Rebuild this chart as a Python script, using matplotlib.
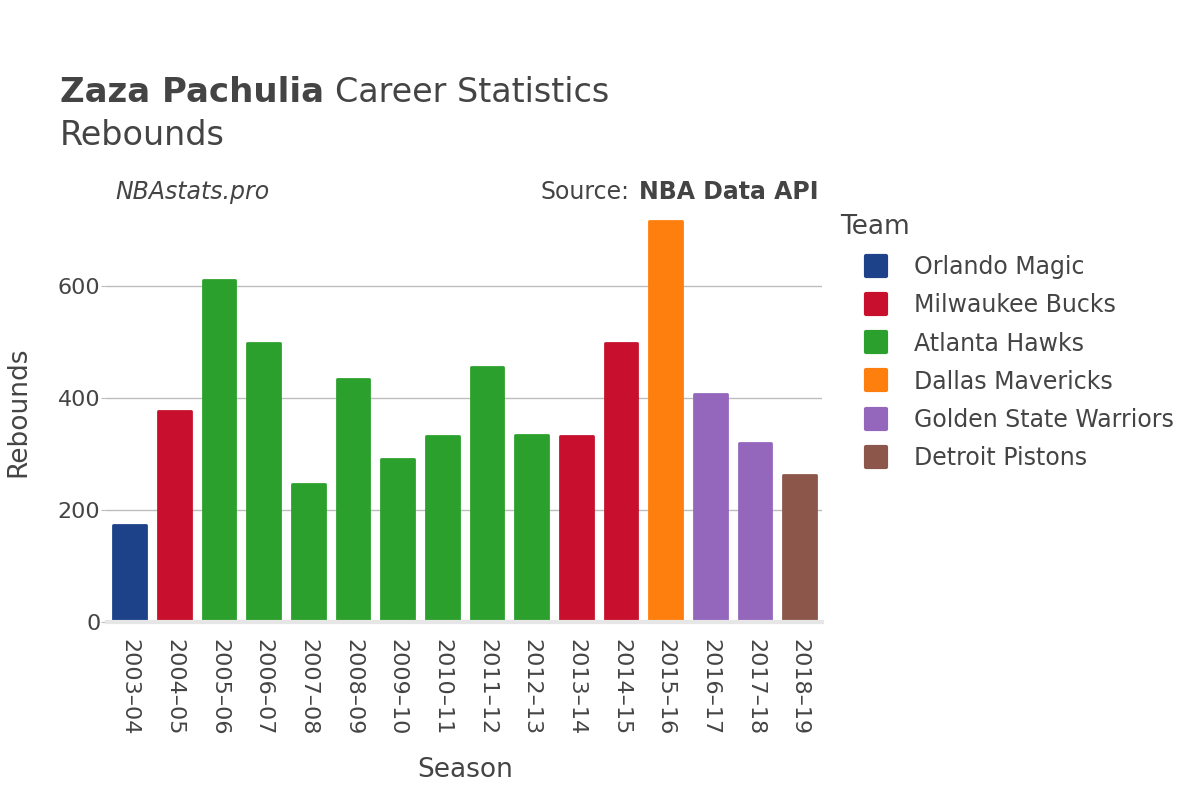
import matplotlib
matplotlib.use("Agg")
import matplotlib.pyplot as plt
from matplotlib.lines import Line2D
from matplotlib.markers import MarkerStyle

# Season labels and rebounds per season
seasons = ["2003–04", "2004–05", "2005–06", "2006–07", "2007–08", "2008–09",
           "2009–10", "2010–11", "2011–12", "2012–13", "2013–14", "2014–15",
           "2015–16", "2016–17", "2017–18", "2018–19"]
rebounds = [173, 377, 611, 498, 246, 434, 291, 332, 455, 334, 332, 498,
            716, 407, 320, 262]
teams = ["Orlando Magic", "Milwaukee Bucks", "Atlanta Hawks", "Atlanta Hawks",
         "Atlanta Hawks", "Atlanta Hawks", "Atlanta Hawks", "Atlanta Hawks",
         "Atlanta Hawks", "Atlanta Hawks", "Milwaukee Bucks", "Milwaukee Bucks",
         "Dallas Mavericks", "Golden State Warriors", "Golden State Warriors",
         "Detroit Pistons"]

team_order = ["Orlando Magic", "Milwaukee Bucks", "Atlanta Hawks",
              "Dallas Mavericks", "Golden State Warriors", "Detroit Pistons"]
team_colors = {
    "Orlando Magic": "#1d428a",
    "Milwaukee Bucks": "#c8102e",
    "Atlanta Hawks": "#2ca02c",
    "Dallas Mavericks": "#ff7f0e",
    "Golden State Warriors": "#9467bd",
    "Detroit Pistons": "#8c564b",
}

text_color = "#444444"
grid_color = "#bdbdbd"

plt.rcParams["font.family"] = ["DejaVu Sans"]

fig = plt.figure(figsize=(12, 8), dpi=100)
ax = fig.add_axes([0.0895, 0.2225, 0.5955, 0.5265])

colors = [team_colors[t] for t in teams]
x = list(range(len(seasons)))
bars = ax.bar(x, rebounds, width=0.73, color=colors, edgecolor=colors,
              linewidth=2, zorder=3)
for b in bars:
    b.set_joinstyle("round")

ax.set_xlim(-0.5, len(seasons) - 0.5)
ax.set_ylim(0, 752)
ax.set_yticks([0, 200, 400, 600])
ax.set_xticks(x)
ax.set_xticklabels(seasons, rotation=-90, fontsize=16, color=text_color)
ax.tick_params(axis="x", length=0, pad=12)
ax.tick_params(axis="y", labelsize=16, labelcolor=text_color, length=4,
               color=grid_color, pad=1)
ax.grid(axis="y", color=grid_color, linewidth=1, zorder=0)
ax.axhline(0, color="#e6e6e6", linewidth=3, zorder=4, clip_on=False)
for s in ax.spines.values():
    s.set_visible(False)

ax.set_xlabel("Season", fontsize=19, color=text_color, labelpad=16)
ax.set_ylabel("Rebounds", fontsize=19, color=text_color, labelpad=19)

# Titles
fig.text(0.05, 0.873, "Zaza Pachulia", fontsize=24.5, fontweight="bold",
         color=text_color, va="baseline")
fig.text(0.279, 0.873, "Career Statistics", fontsize=24, color=text_color,
         va="baseline")
fig.text(0.05, 0.819, "Rebounds", fontsize=24, color=text_color, va="baseline")
fig.text(0.096, 0.751, "NBAstats.pro", fontsize=17, style="italic",
         color=text_color, va="baseline")
fig.text(0.682, 0.751, "NBA Data API", fontsize=17, fontweight="bold",
         color=text_color, va="baseline", ha="right")
fig.text(0.525, 0.751, "Source:", fontsize=17, color=text_color,
         va="baseline", ha="right")

# Legend
fig.text(0.7, 0.716, "Team", fontsize=19, color=text_color, va="center")
handles = [Line2D([], [], linestyle="none",
                  marker=MarkerStyle("s", joinstyle="round"), markersize=14,
                  markerfacecolor=team_colors[t], markeredgecolor=team_colors[t],
                  markeredgewidth=3)
           for t in team_order]
leg = fig.legend(handles, team_order, loc="upper left",
                 bbox_to_anchor=(0.7025, 0.7075), frameon=False, fontsize=17,
                 labelcolor=text_color, handlelength=1.0, handletextpad=1.1,
                 labelspacing=0.6)

fig.savefig("out.png", dpi=100)
